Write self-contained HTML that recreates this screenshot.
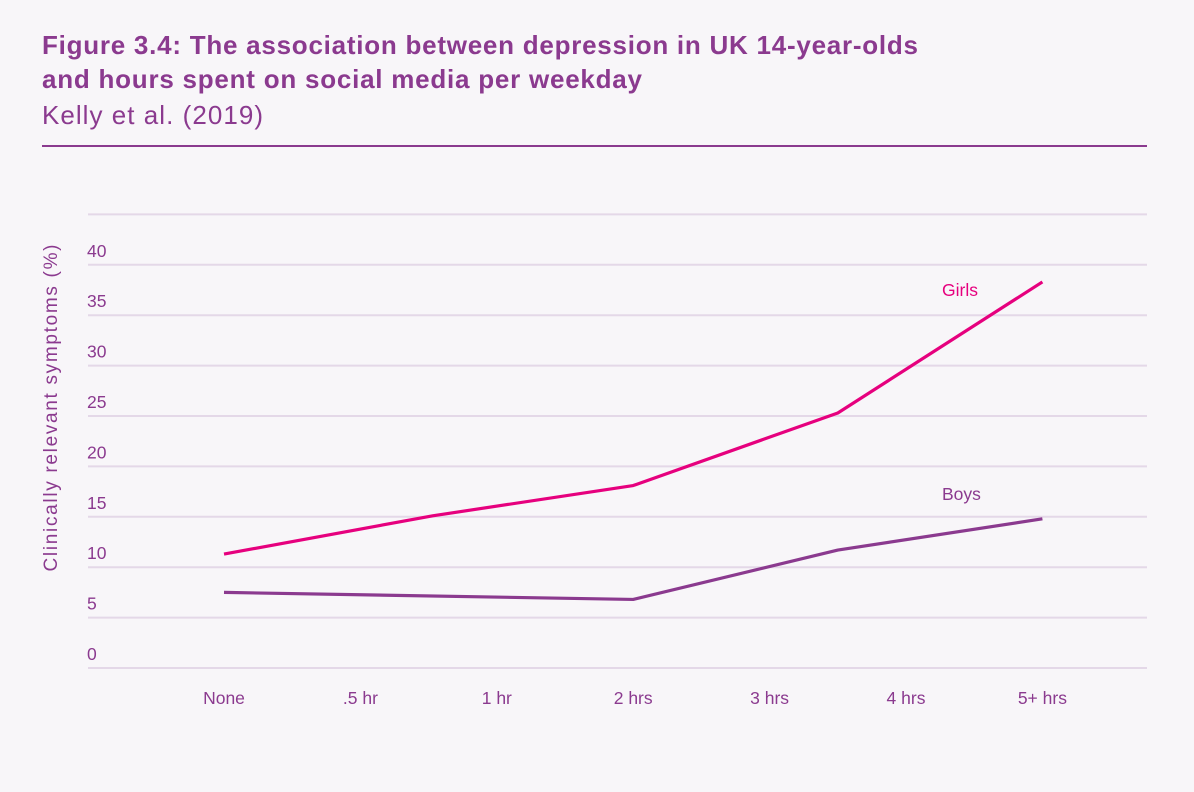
<!DOCTYPE html>
<html><head><meta charset="utf-8"><style>
body{margin:0;background:#f8f6f9;width:1194px;height:792px;overflow:hidden;font-family:"Liberation Sans",sans-serif;}
svg{position:absolute;left:0;top:0}
</style></head><body>
<svg width="1194" height="792">
<text x="42" y="54" font-size="26" font-weight="bold" fill="#8b3a8f" textLength="876" lengthAdjust="spacing">Figure 3.4: The association between depression in UK 14-year-olds</text>
<text x="42" y="88" font-size="26" font-weight="bold" fill="#8b3a8f" textLength="600" lengthAdjust="spacing">and hours spent on social media per weekday</text>
<text x="42" y="124" font-size="26" fill="#8b3a8f" textLength="221" lengthAdjust="spacing">Kelly et al. (2019)</text>
<rect x="42" y="145" width="1105" height="2" fill="#8b3a8f"/>
<text transform="translate(57,408) rotate(-90)" text-anchor="middle" font-size="19" fill="#8b3a8f" textLength="327" lengthAdjust="spacing">Clinically relevant symptoms (%)</text>
<g id="grid"></g><g id="ylab"></g><g id="xlab"></g><g id="lines"></g>
</svg>
<script>
const categories=["None",".5 hr","1 hr","2 hrs","3 hrs","4 hrs","5+ hrs"];
const yTicks=[0,5,10,15,20,25,30,35,40];
const girlsX=[0,1.53,3,4.5,6];
const girlsY=[11.3,15.1,18.1,25.3,38.3];
const boysX=[0,3,4.5,6];
const boysY=[7.5,6.8,11.7,14.8];
const NS="http://www.w3.org/2000/svg";
const xs=i=>224+i*136.4;
const ys=v=>668-v*10.08;
function mk(t,a,p){const e=document.createElementNS(NS,t);for(const k in a)e.setAttribute(k,a[k]);p.appendChild(e);return e;}
const grid=document.getElementById('grid'),yl=document.getElementById('ylab'),xl=document.getElementById('xlab'),ln=document.getElementById('lines');
for(let v=0;v<=45;v+=5){const l=mk('line',{x1:88,x2:1147,y1:ys(v),y2:ys(v),stroke:'#e4d8e8','stroke-width':2},grid);

}
yTicks.forEach(v=>{const t=mk('text',{x:87,y:ys(v)-8,'font-size':17.5,fill:'#8b3a8f'},yl);t.textContent=v;

});
categories.forEach((c,i)=>{const t=mk('text',{x:xs(i),y:704,'font-size':17.5,fill:'#8b3a8f','text-anchor':'middle'},xl);t.textContent=c;

});
function line(X,Y,col,name){const p=mk('polyline',{points:X.map((x,i)=>xs(x)+','+ys(Y[i])).join(' '),fill:'none',stroke:col,'stroke-width':3.2,'stroke-linejoin':'round'},ln);

}
line(girlsX,girlsY,'#e6007e','girls-line');
line(boysX,boysY,'#8b3a8f','boys-line');
const g=mk('text',{x:942,y:296,'font-size':17.5,fill:'#e6007e'},ln);g.textContent='Girls';


const b=mk('text',{x:942,y:500,'font-size':17.5,fill:'#8b3a8f'},ln);b.textContent='Boys';


</script>
</body></html>
